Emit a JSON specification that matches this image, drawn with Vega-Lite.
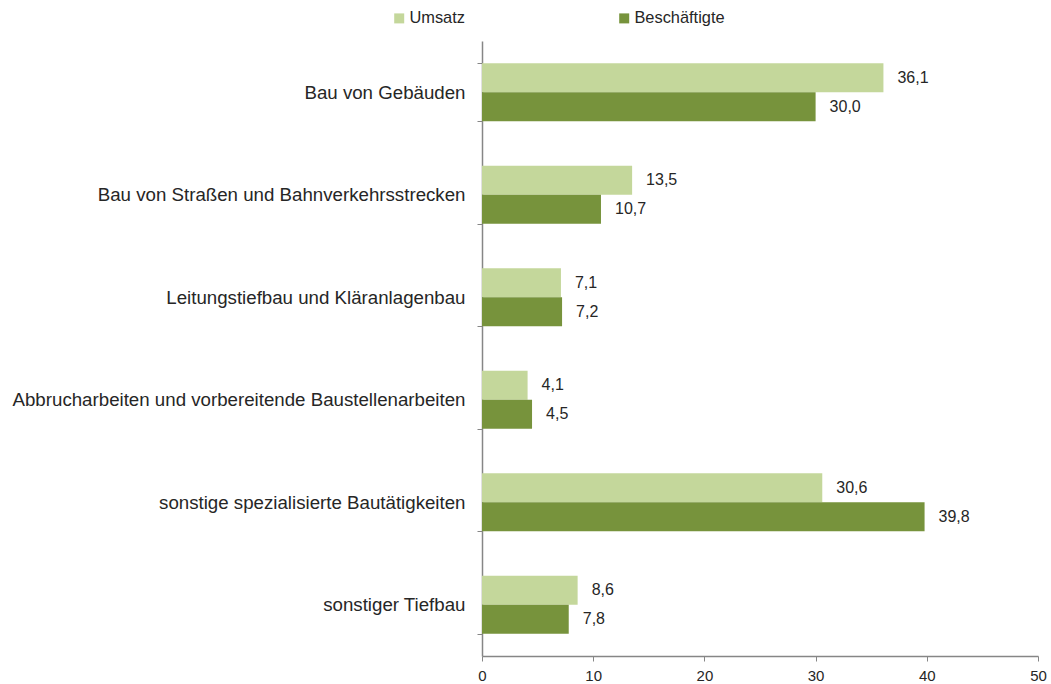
{
  "$schema": "https://vega.github.io/schema/vega-lite/v6.json",
  "width": 556,
  "height": 615,
  "autosize": {"type": "none"},
  "padding": {"left": 482, "top": 41, "right": 13, "bottom": 28},
  "background": "white",
  "config": {
    "locale": {"number": {"decimal": ",", "thousands": ".", "grouping": [3], "currency": ["", " €"]}},
    "font": "Liberation Sans",
    "view": {"stroke": null}
  },
  "data": {
    "values": [
      {"cat": "Bau von Gebäuden", "series": "Umsatz", "value": 36.1},
      {"cat": "Bau von Gebäuden", "series": "Beschäftigte", "value": 30.0},
      {"cat": "Bau von Straßen und Bahnverkehrsstrecken", "series": "Umsatz", "value": 13.5},
      {"cat": "Bau von Straßen und Bahnverkehrsstrecken", "series": "Beschäftigte", "value": 10.7},
      {"cat": "Leitungstiefbau und Kläranlagenbau", "series": "Umsatz", "value": 7.1},
      {"cat": "Leitungstiefbau und Kläranlagenbau", "series": "Beschäftigte", "value": 7.2},
      {"cat": "Abbrucharbeiten und vorbereitende Baustellenarbeiten", "series": "Umsatz", "value": 4.1},
      {"cat": "Abbrucharbeiten und vorbereitende Baustellenarbeiten", "series": "Beschäftigte", "value": 4.5},
      {"cat": "sonstige spezialisierte Bautätigkeiten", "series": "Umsatz", "value": 30.6},
      {"cat": "sonstige spezialisierte Bautätigkeiten", "series": "Beschäftigte", "value": 39.8},
      {"cat": "sonstiger Tiefbau", "series": "Umsatz", "value": 8.6},
      {"cat": "sonstiger Tiefbau", "series": "Beschäftigte", "value": 7.8}
    ]
  },
  "encoding": {
    "y": {
      "field": "cat",
      "type": "nominal",
      "sort": null,
      "scale": {"paddingInner": 0.434, "paddingOuter": 0.217},
      "axis": {
        "title": null,
        "tickBand": "extent",
        "domainColor": "#868686",
        "tickColor": "#868686",
        "domainWidth": 1.5,
        "tickSize": 5,
        "labelPadding": 12,
        "labelFontSize": 18.7,
        "labelColor": "#262626",
        "labelLimit": 600
      }
    },
    "yOffset": {
      "field": "series",
      "type": "nominal",
      "sort": ["Umsatz", "Beschäftigte"],
      "scale": {"paddingInner": 0, "paddingOuter": 0}
    },
    "x": {
      "field": "value",
      "type": "quantitative",
      "scale": {"domain": [0, 50], "nice": false},
      "axis": {
        "title": null,
        "values": [0, 10, 20, 30, 40, 50],
        "format": "d",
        "grid": false,
        "labelFlush": false,
        "domainColor": "#868686",
        "tickColor": "#868686",
        "domainWidth": 1.5,
        "tickSize": 5,
        "labelPadding": 7,
        "labelFontSize": 15,
        "labelColor": "#262626"
      }
    }
  },
  "layer": [
    {
      "mark": {"type": "bar"},
      "encoding": {
        "color": {
          "field": "series",
          "type": "nominal",
          "sort": ["Umsatz", "Beschäftigte"],
          "scale": {"domain": ["Umsatz", "Beschäftigte"], "range": ["#c4d79b", "#77933c"]},
          "legend": {
            "title": null,
            "orient": "none",
            "direction": "horizontal",
            "legendX": -91,
            "legendY": -31,
            "symbolType": "square",
            "symbolSize": 100,
            "symbolStrokeWidth": 0,
            "labelFontSize": 16.4,
            "labelColor": "#262626",
            "labelOffset": 2,
            "columnPadding": 151
          }
        }
      }
    },
    {
      "mark": {"type": "text", "align": "left", "dx": 14, "fontSize": 16, "color": "#262626"},
      "encoding": {
        "text": {"field": "value", "type": "quantitative", "format": ".1f"}
      }
    }
  ]
}
